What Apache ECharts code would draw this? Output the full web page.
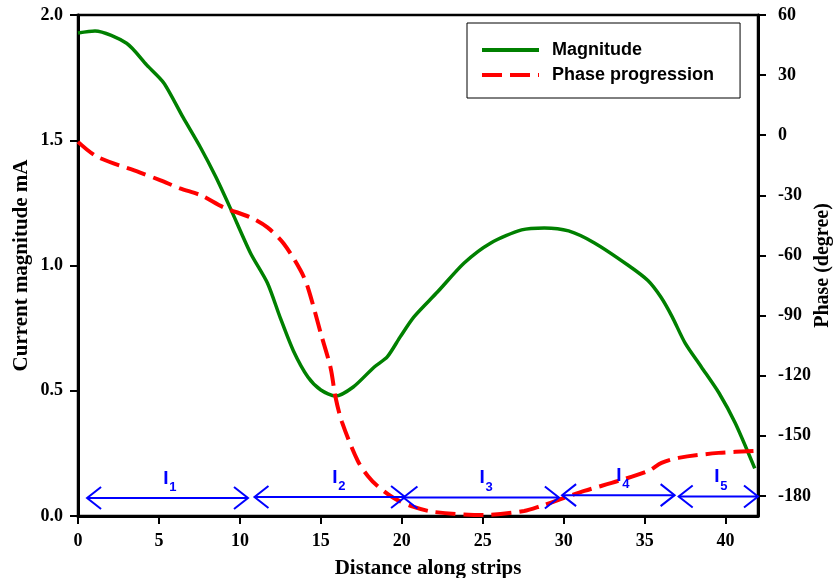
<!DOCTYPE html>
<html>
<head>
<meta charset="utf-8">
<script src="https://cdn.jsdelivr.net/npm/echarts@6/dist/echarts.min.js"></script>
<style>html,body{margin:0;padding:0;background:#fff;}#c{width:833px;height:578px;}</style>
</head>
<body>
<div id="c"></div>
<script>
// Magnitude (left axis, mA)
const magDist = [0, 1.05, 3.0, 4.25, 5.3, 6.5, 7.55, 8.5, 9.4, 10.65, 11.7, 12.5, 13.3, 14.2, 15.0, 15.9, 17.0, 18.3, 19.1, 19.9, 20.75, 22.2, 23.85, 25.5, 27.4, 28.8, 30.3, 31.9, 34.0, 35.2, 36.0, 36.7, 37.5, 38.5, 39.6, 40.6, 41.8];
const magVal  = [1.928, 1.936, 1.887, 1.80, 1.729, 1.59, 1.473, 1.355, 1.23, 1.05, 0.93, 0.79, 0.66, 0.555, 0.503, 0.479, 0.515, 0.595, 0.635, 0.715, 0.795, 0.894, 1.01, 1.09, 1.142, 1.15, 1.138, 1.09, 1.0, 0.94, 0.874, 0.795, 0.69, 0.595, 0.49, 0.37, 0.19];
// Phase progression (right axis, degree)
const phDist = [0, 1.2, 3.8, 5.1, 6.3, 7.6, 9.0, 10.65, 11.7, 12.7, 13.75, 14.2, 15.0, 15.6, 15.9, 16.3, 17.28, 17.9, 18.5, 19.5, 20.74, 22.0, 25.08, 27.55, 28.6, 29.85, 31.27, 33.37, 35.23, 36.04, 37.09, 39.57, 42.0];
const phVal  = [-3.3, -10.8, -18.5, -22.5, -26.5, -30, -36, -41, -46, -54, -67.5, -76, -99, -116, -130.5, -143, -162.5, -170, -175, -181, -185.5, -188, -189.5, -187.5, -185, -181.5, -177.5, -172.5, -167.5, -163.5, -161, -158.5, -157.5];
// Interval arrows (l1..l5)
const arrowStart = [0.56, 10.9, 20.1, 29.9, 37.1];
const arrowEnd   = [10.5, 20.2, 29.7, 36.85, 42.0];
const arrowPhase = [-181, -180.5, -180.8, -179.6, -180.3];
const arrowLabelX = [5.26, 15.7, 24.8, 33.25, 39.3];
const arrowSub = ['1', '2', '3', '4', '5'];
// Tick labels
const xTicks = [0, 5, 10, 15, 20, 25, 30, 35, 40];
const phaseTicks = [60, 30, 0, -30, -60, -90, -120, -150, -180];

const serif = "'Liberation Serif', 'Times New Roman', serif";
const sans = "'Liberation Sans', Arial, sans-serif";
const BLUE = '#0000ff';

const magData = magDist.map((d, i) => [d, magVal[i]]);
const phData = phDist.map((d, i) => [d, phVal[i]]);
const arrowData = arrowStart.map((s, i) => [s, arrowEnd[i], arrowPhase[i], arrowLabelX[i], i]);

const chart = echarts.init(document.getElementById('c'), null, {renderer: 'canvas'});
chart.setOption({
  animation: false,
  backgroundColor: '#fff',
  grid: {left: 78, right: 75, top: 15, bottom: 62, show: true, borderColor: '#000', borderWidth: 2.5, backgroundColor: 'transparent', containLabel: false, outerBoundsMode: 'none'},
  legend: {
    data: ['Magnitude', 'Phase progression'],
    orient: 'vertical',
    left: 467, top: 23,
    padding: [18, 26, 14, 13],
    itemWidth: 57, itemHeight: 14, itemGap: 7,
    borderColor: '#000', borderWidth: 1,
    itemStyle: {opacity: 0},
    lineStyle: {width: 4},
    textStyle: {fontFamily: sans, fontWeight: 'bold', fontSize: 18, color: '#000', padding: [0, 0, 0, 8]}
  },
  xAxis: {
    type: 'value', min: 0, max: 42, interval: 5,
    axisLine: {show: true, lineStyle: {color: '#000', width: 3}},
    axisTick: {show: true, customValues: xTicks, length: 8, lineStyle: {color: '#000', width: 2}},
    axisLabel: {customValues: xTicks, fontFamily: serif, fontWeight: 'bold', fontSize: 18, color: '#000', margin: 16},
    splitLine: {show: false},
    name: 'Distance along strips', nameLocation: 'middle', nameGap: 42, nameMoveOverlap: false,
    nameTextStyle: {fontFamily: serif, fontWeight: 'bold', fontSize: 21, color: '#000', padding: [0, 0, 0, 20]}
  },
  yAxis: [{
    type: 'value', min: 0, max: 2, interval: 0.5, position: 'left',
    axisLine: {show: true, lineStyle: {color: '#000', width: 3}},
    axisTick: {show: true, length: 8, lineStyle: {color: '#000', width: 2}},
    axisLabel: {formatter: v => v.toFixed(1), fontFamily: serif, fontWeight: 'bold', fontSize: 18, color: '#000', margin: 15},
    splitLine: {show: false},
    name: 'Current magnitude mA', nameLocation: 'middle', nameGap: 46, nameRotate: 90, nameMoveOverlap: false,
    nameTextStyle: {fontFamily: serif, fontWeight: 'bold', fontSize: 21, color: '#000'}
  }, {
    type: 'value', min: -190, max: 60, position: 'right',
    axisLine: {show: true, lineStyle: {color: '#000', width: 3}},
    axisTick: {show: true, customValues: phaseTicks, length: 8, lineStyle: {color: '#000', width: 2}},
    axisLabel: {customValues: phaseTicks, fontFamily: serif, fontWeight: 'bold', fontSize: 18, color: '#000', margin: 20},
    splitLine: {show: false},
    name: 'Phase (degree)', nameLocation: 'middle', nameGap: 55, nameRotate: 90, nameMoveOverlap: false,
    nameTextStyle: {fontFamily: serif, fontWeight: 'bold', fontSize: 20, color: '#000'}
  }],
  series: [{
    name: 'Magnitude', type: 'line', yAxisIndex: 0, data: magData,
    smooth: 0.25, symbol: 'none',
    lineStyle: {color: '#008000', width: 3.5}, itemStyle: {color: '#008000'}, z: 3
  }, {
    name: 'Phase progression', type: 'line', yAxisIndex: 1, data: phData,
    smooth: 0.3, symbol: 'none',
    lineStyle: {color: '#ff0000', width: 4, type: [20, 8]}, itemStyle: {color: '#ff0000'}, z: 4
  }, {
    name: 'intervals', type: 'custom', yAxisIndex: 1, data: arrowData,
    encode: {x: [0, 1, 3], y: 2}, silent: true, clip: false, z: 5,
    renderItem: function (params, api) {
      const s = api.coord([api.value(0), api.value(2)]);
      const e = api.coord([api.value(1), api.value(2)]);
      const l = api.coord([api.value(3), api.value(2)]);
      const sub = arrowSub[api.value(4)];
      const st = {stroke: BLUE, lineWidth: 2, fill: null};
      return {type: 'group', children: [
        {type: 'line', shape: {x1: s[0], y1: s[1], x2: e[0], y2: e[1]}, style: st},
        {type: 'polyline', shape: {points: [[s[0] + 14, s[1] - 11], [s[0], s[1]], [s[0] + 14, s[1] + 11]]}, style: st},
        {type: 'polyline', shape: {points: [[e[0] - 14, e[1] - 11], [e[0], e[1]], [e[0] - 14, e[1] + 11]]}, style: st},
        {type: 'text', x: l[0], y: l[1] - 10, style: {text: 'I', fontFamily: sans, fontWeight: 'bold', fontSize: 19, fill: BLUE, align: 'left', verticalAlign: 'bottom'}},
        {type: 'text', x: l[0] + 6, y: l[1] - 4, style: {text: sub, fontFamily: sans, fontWeight: 'bold', fontSize: 13, fill: BLUE, align: 'left', verticalAlign: 'bottom'}}
      ]};
    }
  }]
});
</script>
</body>
</html>
